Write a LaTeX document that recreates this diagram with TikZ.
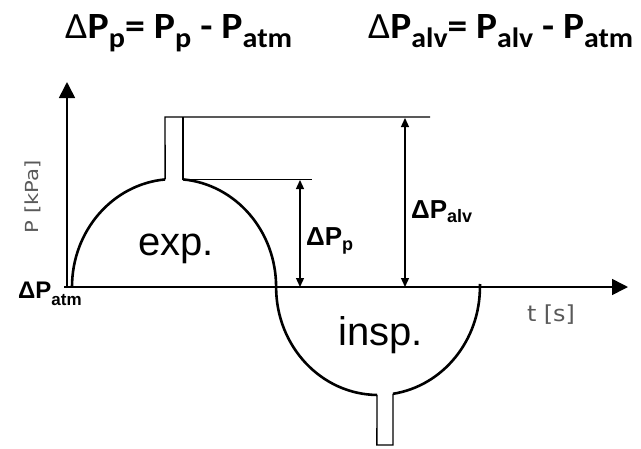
\documentclass[tikz,border=0pt]{standalone}
\usepackage{fontspec}
\setmainfont{Carlito}
\newfontfamily\arialf{Liberation Sans}
\newfontfamily\dejaf{DejaVu Sans}
\usetikzlibrary{arrows.meta}
\newcommand{\tsub}[1]{\raisebox{-9pt}{\fontsize{28}{28}\selectfont #1}}
\begin{document}
\begin{tikzpicture}[x=1pt,y=-1pt,
  curve/.style={line width=2.6pt,line join=round},
  thinline/.style={line width=1.4pt},
  axisline/.style={line width=1.6pt,-{Triangle[length=16pt,width=16pt]}},
  dimline/.style={line width=1.3pt,{Triangle[length=9pt,width=8pt]}-{Triangle[length=9pt,width=8pt]}},
  lbl/.style={inner sep=0pt,anchor=base west},
  axlbl/.style={inner sep=0pt,text=black!65}]
\fill[white] (0,0) rectangle (641,448);
\useasboundingbox (0,0) rectangle (641,448);
% titles
\node[lbl] (title1) at (65,38) {\resizebox{227pt}{\height}{\fontsize{37}{40}\selectfont Δ\bfseries P\tsub{p}= P\tsub{p} - P\tsub{atm}}};
\node[lbl] (title2) at (368,38) {\resizebox{265pt}{\height}{\fontsize{37}{40}\selectfont Δ\bfseries P\tsub{alv}= P\tsub{alv} - P\tsub{atm}}};
% axes
\coordinate (o) at (67,287);
\coordinate (ytop) at (67,82);
\coordinate (xl) at (64,287);
\coordinate (xr) at (628,287);
\draw[axisline] (67,288) -- (ytop);
\draw[axisline] (xl) -- (xr);
\node[axlbl,rotate=90,anchor=base] (plab) at (38,196.5) {\resizebox{73pt}{\height}{\dejaf\fontsize{18}{18}\selectfont P [kPa]}};
\node[axlbl,anchor=base] (tlab) at (551,321) {\resizebox{48pt}{\height}{\dejaf\fontsize{22}{22}\selectfont t [s]}};
% expiration lobe
\draw[curve] (72,287) arc[start angle=180,end angle=265,x radius=102,y radius=108] coordinate (sl);
\draw[curve] (183,179.4) arc[start angle=275,end angle=360,x radius=102,y radius=108]
  arc[start angle=180,end angle=90.6,x radius=102,y radius=108] coordinate (bl);
\draw[curve] (393,393.8) arc[start angle=81.5,end angle=0,x radius=102,y radius=108] -- (480,284);
% stems and reference lines
\coordinate (topl) at (165,117);
\coordinate (topr) at (430,117);
\coordinate (midl) at (183,179.4);
\coordinate (midr) at (312,179.4);
\draw[thinline] (sl) -- (topl) -- (topr);
\draw[thinline] (183,117) -- (midl) -- (midr);
\draw[thinline] (bl) -- (376.9,445) -- (393,445) -- (393,393.8);
% dimension arrows
\coordinate (pA) at (300,180);
\coordinate (pB) at (300,287);
\coordinate (aA) at (405,118);
\coordinate (aB) at (405,287);
\draw[dimline] (pA) -- (pB);
\draw[dimline] (aA) -- (aB);
% labels
\node[lbl,font=\arialf\bfseries\fontsize{26}{26}\selectfont] (dpp) at (306,245.5) {ΔP\raisebox{-5pt}{\fontsize{18}{18}\selectfont p}};
\node[lbl,font=\arialf\bfseries\fontsize{26}{26}\selectfont] (dpalv) at (411,218.3) {ΔP\raisebox{-4.5pt}{\fontsize{18}{18}\selectfont alv}};
\node[lbl,font=\arialf\bfseries\fontsize{24}{24}\selectfont] (dpatm) at (18,298) {ΔP\raisebox{-7pt}{\fontsize{17}{17}\selectfont atm}};
\node[lbl,font=\arialf\fontsize{40}{40}\selectfont] (exp) at (138,255) {exp.};
\node[lbl,font=\arialf\fontsize{40}{40}\selectfont] (insp) at (338,345) {insp.};
\end{tikzpicture}
\end{document}
